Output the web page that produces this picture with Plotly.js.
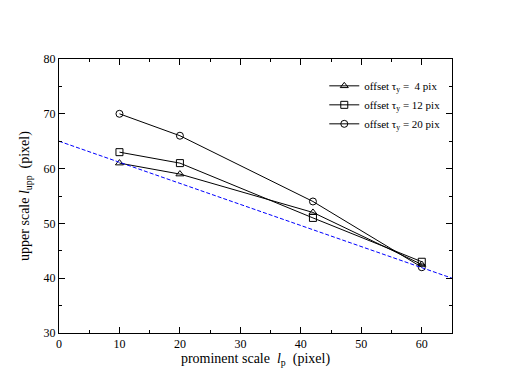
<!DOCTYPE html>
<html>
<head>
<meta charset="utf-8">
<script src="https://cdn.plot.ly/plotly-3.0.1.min.js"></script>
<style>
  html, body { margin: 0; padding: 0; background: #fff; }
  #chart { width: 508px; height: 392px; }
</style>
</head>
<body>
<div id="chart"></div>
<script>
// prominent scale l_p (pixel)
const lp = [10, 20, 42, 60];

// upper scale l_upp for each offset
const upp4 = [61, 59, 52, 42.5];
const upp12 = [63, 61, 51, 43];
const upp20 = [70, 66, 54, 42];

// dashed reference line
const refX = [0, 65];
const refY = [65, 40];

const serif = 'Liberation Serif, Times New Roman, serif';

function series(y, symbol, name) {
    return {
        x: lp, y: y,
        type: 'scatter',
        mode: 'lines+markers',
        name: name,
        line: {color: '#000', width: 1},
        marker: {symbol: symbol, size: 7, color: '#000', line: {color: '#000', width: 1}}
    };
}

const data = [
    series(upp4, 'triangle-up-open', 'offset τ<sub>y</sub> =  4 pix'),
    series(upp12, 'square-open', 'offset τ<sub>y</sub> = 12 pix'),
    series(upp20, 'circle-open', 'offset τ<sub>y</sub> = 20 pix'),
    {
        x: refX, y: refY,
        type: 'scatter',
        mode: 'lines',
        showlegend: false,
        line: {color: '#0000ff', width: 1, dash: '4px,2px'}
    }
];

const axisCommon = {
    showgrid: false,
    zeroline: false,
    showline: true,
    linecolor: '#000',
    linewidth: 1,
    mirror: 'allticks',
    ticks: 'inside',
    ticklen: 6,
    tickcolor: '#000',
    tickfont: {family: serif, size: 12, color: '#000'}
};

const layout = {
    width: 508,
    height: 392,
    margin: {l: 59, r: 56, t: 59, b: 59},
    paper_bgcolor: '#fff',
    plot_bgcolor: '#fff',
    font: {family: serif, color: '#000'},
    xaxis: Object.assign({}, axisCommon, {
        range: [0, 65],
        dtick: 10,
        minor: {ticks: 'inside', ticklen: 3, tickcolor: '#000', dtick: 5},
        title: {text: 'prominent scale  <i>l</i><sub>p</sub>  (pixel)', font: {family: serif, size: 14}, standoff: 0}
    }),
    yaxis: Object.assign({}, axisCommon, {
        range: [30, 80],
        dtick: 10,
        minor: {ticks: 'inside', ticklen: 3, tickcolor: '#000', dtick: 5},
        title: {text: 'upper scale <i>l</i><sub>upp</sub>  (pixel)', font: {family: serif, size: 14}, standoff: 10}
    }),
    legend: {
        x: 0.675, y: 0.955,
        xanchor: 'left', yanchor: 'top',
        bgcolor: 'rgba(0,0,0,0)',
        font: {family: serif, size: 11, color: '#000'},
        tracegroupgap: 0,
        itemwidth: 30
    }
};

Plotly.newPlot('chart', data, layout, {displayModeBar: false});
</script>
</body>
</html>
